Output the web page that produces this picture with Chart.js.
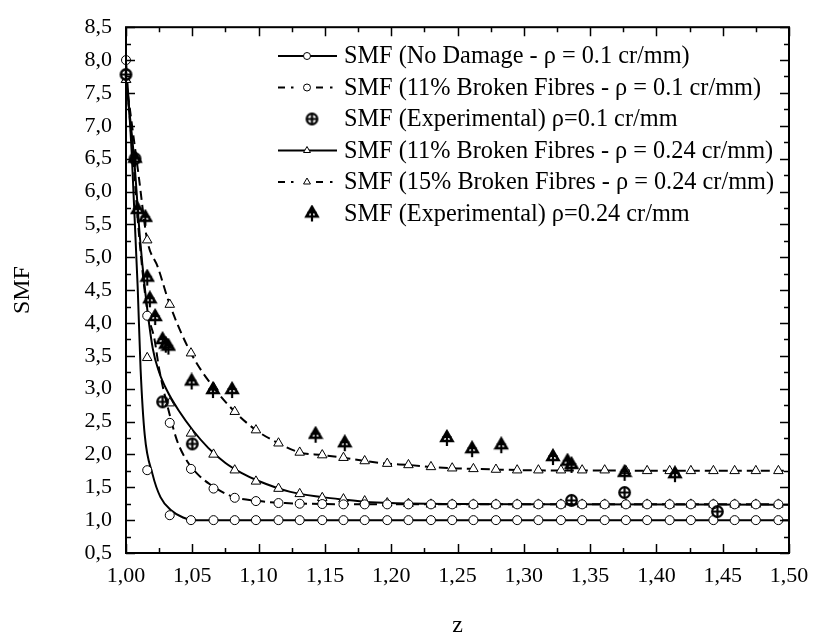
<!DOCTYPE html>
<html>
<head>
<meta charset="utf-8">
<script src="https://cdn.jsdelivr.net/npm/chart.js@4.4.1/dist/chart.umd.min.js"></script>
<style>
  html, body { margin: 0; padding: 0; background: #fff; }
  #wrap { width: 832px; height: 632px; }
</style>
</head>
<body>
<div id="wrap"><canvas id="myChart" width="832" height="632"></canvas></div>
<script>
// marker positions (z) shared by the model series
const markerZ = [1.000, 1.016, 1.033, 1.049, 1.066, 1.082, 1.098, 1.115, 1.131, 1.148, 1.164,
                 1.180, 1.197, 1.213, 1.230, 1.246, 1.262, 1.279, 1.295, 1.311, 1.328, 1.344,
                 1.361, 1.377, 1.393, 1.410, 1.426, 1.443, 1.459, 1.475, 1.492];

// SMF (No Damage - rho = 0.1)
const noDmgMarks = [8.00, 1.76, 1.075, 1.00, 1.00, 1.00, 1.00, 1.00, 1.00, 1.00, 1.00,
                    1.00, 1.00, 1.00, 1.00, 1.00, 1.00, 1.00, 1.00, 1.00, 1.00, 1.00,
                    1.00, 1.00, 1.00, 1.00, 1.00, 1.00, 1.00, 1.00, 1.00];
const noDmgLineZ = [1.000, 1.0044, 1.0088, 1.0110, 1.0141, 1.0200, 1.0260, 1.0340, 1.0430, 1.0510, 1.0700, 1.5000];
const noDmgLine  = [8.00, 6.55, 4.55, 3.30, 2.30, 1.70, 1.35, 1.15, 1.04, 1.00, 1.00, 1.00];

// SMF (11% Broken Fibres - rho = 0.1)
const br11Marks = [7.78, 4.11, 2.48, 1.78, 1.48, 1.34, 1.29, 1.26, 1.25, 1.245, 1.24,
                   1.24, 1.24, 1.24, 1.24, 1.24, 1.24, 1.24, 1.24, 1.24, 1.24, 1.24,
                   1.24, 1.24, 1.24, 1.24, 1.24, 1.24, 1.24, 1.24, 1.24];
const br11LineZ = [1.000, 1.005, 1.010, 1.016, 1.0215, 1.025, 1.033, 1.0385, 1.046, 1.054, 1.063,
                   1.080, 1.100, 1.120, 1.150, 1.200, 1.500];
const br11Line  = [7.78, 6.60, 5.30, 4.20, 3.75, 3.30, 2.60, 2.21, 1.90, 1.70, 1.55,
                   1.36, 1.29, 1.26, 1.245, 1.24, 1.24];

// SMF (11% Broken Fibres - rho = 0.24)
const br11bMarks = [7.70, 3.47, 2.78, 2.32, 2.00, 1.76, 1.59, 1.48, 1.40, 1.34, 1.32,
                    1.29, 1.26, 1.25, 1.24, 1.24, 1.24, 1.24, 1.24, 1.24, 1.24, 1.24,
                    1.24, 1.24, 1.24, 1.24, 1.24, 1.24, 1.24, 1.24, 1.24];
const br11bLineZ = [1.000, 1.0061, 1.0105, 1.0141, 1.0202, 1.025, 1.0312, 1.040, 1.0507, 1.062, 1.075,
                    1.087, 1.0995, 1.124, 1.148, 1.165, 1.180, 1.200, 1.250, 1.300, 1.500];
const br11bLine  = [7.70, 6.50, 5.30, 4.55, 3.61, 3.25, 2.96, 2.66, 2.36, 2.10, 1.87,
                    1.72, 1.60, 1.43, 1.35, 1.31, 1.28, 1.26, 1.245, 1.24, 1.235];

// SMF (15% Broken Fibres - rho = 0.24)
const br15Marks = [7.70, 5.26, 4.28, 3.54, 3.02, 2.65, 2.37, 2.17, 2.03, 1.99, 1.95,
                   1.90, 1.86, 1.84, 1.81, 1.79, 1.78, 1.77, 1.76, 1.76, 1.76, 1.76,
                   1.76, 1.75, 1.75, 1.75, 1.75, 1.75, 1.75, 1.75, 1.75];
const br15LineZ = [1.000, 1.0093, 1.016, 1.024, 1.033, 1.049, 1.066, 1.082, 1.098, 1.115, 1.131,
                   1.148, 1.164, 1.180, 1.197, 1.213, 1.230, 1.246, 1.262, 1.279, 1.300, 1.350, 1.500];
const br15Line  = [7.70, 6.28, 5.26, 4.85, 4.28, 3.54, 3.02, 2.65, 2.37, 2.17, 2.03,
                   1.99, 1.95, 1.90, 1.86, 1.84, 1.81, 1.79, 1.78, 1.77, 1.76, 1.755, 1.75];

// experimental points
const exp01Z   = [1.000, 1.0068, 1.0276, 1.050, 1.336, 1.376, 1.446];
const exp01SMF = [7.78, 6.50, 2.80, 2.16, 1.30, 1.42, 1.13];
const exp024Z   = [1.0068, 1.0088, 1.0146, 1.016, 1.018, 1.022, 1.0276, 1.030, 1.032, 1.0495, 1.0656,
                   1.080, 1.143, 1.165, 1.242, 1.261, 1.283, 1.322, 1.333, 1.336, 1.376, 1.414];
const exp024SMF = [6.50, 5.72, 5.60, 4.69, 4.36, 4.09, 3.74, 3.67, 3.64, 3.11, 2.98,
                   2.98, 2.30, 2.17, 2.25, 2.08, 2.14, 1.96, 1.89, 1.84, 1.72, 1.70];

const legendTexts = [
  'SMF (No Damage - ρ = 0.1 cr/mm)',
  'SMF (11% Broken Fibres - ρ = 0.1 cr/mm)',
  'SMF (Experimental) ρ=0.1 cr/mm',
  'SMF (11% Broken Fibres - ρ = 0.24 cr/mm)',
  'SMF (15% Broken Fibres - ρ = 0.24 cr/mm)',
  'SMF (Experimental) ρ=0.24 cr/mm'
];

const FONT = "'Liberation Serif', 'Times New Roman', serif";
const DASH = [9, 5];

function pts(xs, ys) {
  return xs.map((v, i) => ({ x: v, y: ys[i] }));
}

// symbol images for the experimental points
function makeCirclePlus() {
  const c = document.createElement('canvas');
  c.width = 15; c.height = 15;
  const g = c.getContext('2d');
  g.strokeStyle = '#000';
  g.lineWidth = 2.2;
  g.beginPath(); g.arc(7.5, 7.5, 5.3, 0, Math.PI * 2); g.stroke();
  g.beginPath();
  g.moveTo(7.5, 2); g.lineTo(7.5, 13);
  g.moveTo(2, 7.5); g.lineTo(13, 7.5);
  g.stroke();
  return c;
}
function makeTriPlus() {
  const c = document.createElement('canvas');
  c.width = 16; c.height = 18;
  const g = c.getContext('2d');
  g.strokeStyle = '#000';
  g.lineWidth = 2.6;
  g.beginPath();
  g.moveTo(8, 2.5); g.lineTo(2.5, 12); g.lineTo(13.5, 12); g.closePath();
  g.stroke();
  g.lineWidth = 2.2;
  g.beginPath();
  g.moveTo(8, 2); g.lineTo(8, 17);
  g.moveTo(3.5, 8); g.lineTo(12.5, 8);
  g.stroke();
  return c;
}
const circlePlus = makeCirclePlus();
const triPlus = makeTriPlus();

function lineSet(xs, ys, dash) {
  return {
    data: pts(xs, ys), showLine: true, borderColor: '#000', borderWidth: 2,
    borderDash: dash || [], pointRadius: 0, cubicInterpolationMode: 'monotone', order: 10
  };
}
function markSet(ys, style, r) {
  return {
    data: pts(markerZ, ys), showLine: false, pointStyle: style, pointRadius: r,
    pointBackgroundColor: '#fff', pointBorderColor: '#000', pointBorderWidth: 1,
    order: 5, clip: false
  };
}

// frame with inward ticks on all four sides
const frameTicks = {
  id: 'frameTicks',
  afterDatasetsDraw(chart) {
    const { ctx, chartArea: a, scales: { x, y } } = chart;
    ctx.save();
    ctx.strokeStyle = '#000';
    ctx.lineWidth = 2;
    ctx.strokeRect(a.left, a.top, a.right - a.left, a.bottom - a.top);
    ctx.lineWidth = 1.5;
    const xv = x.ticks.map(t => t.value);
    const yv = y.ticks.map(t => t.value);
    ctx.beginPath();
    xv.forEach((v, i) => {
      const p = Math.round(x.getPixelForValue(v)) + 0.5;
      ctx.moveTo(p, a.bottom); ctx.lineTo(p, a.bottom - 9);
      ctx.moveTo(p, a.top); ctx.lineTo(p, a.top + 9);
      if (i < xv.length - 1) {
        const m = Math.round(x.getPixelForValue((v + xv[i + 1]) / 2)) + 0.5;
        ctx.moveTo(m, a.bottom); ctx.lineTo(m, a.bottom - 5);
        ctx.moveTo(m, a.top); ctx.lineTo(m, a.top + 5);
      }
    });
    yv.forEach((v, i) => {
      const p = Math.round(y.getPixelForValue(v)) + 0.5;
      ctx.moveTo(a.left, p); ctx.lineTo(a.left + 9, p);
      ctx.moveTo(a.right, p); ctx.lineTo(a.right - 9, p);
      if (i < yv.length - 1) {
        const m = Math.round(y.getPixelForValue((v + yv[i + 1]) / 2)) + 0.5;
        ctx.moveTo(a.left, m); ctx.lineTo(a.left + 5, m);
        ctx.moveTo(a.right, m); ctx.lineTo(a.right - 5, m);
      }
    });
    ctx.stroke();
    ctx.restore();
  }
};

// legend drawn inside the plot
const legendBox = {
  id: 'legendBox',
  afterDraw(chart) {
    const ctx = chart.ctx;
    const xm = 307, tx = 344;
    const y0 = 56, dy = 31.5;
    const solid = [[278, 337]];
    const dashDot = [[278, 285], [291, 293.5], [316, 323], [330, 332.5]];
    const kinds = [
      { segs: solid, mark: 'circle' },
      { segs: dashDot, mark: 'circle' },
      { img: circlePlus },
      { segs: solid, mark: 'triangle' },
      { segs: dashDot, mark: 'triangle' },
      { img: triPlus }
    ];
    ctx.save();
    legendTexts.forEach((txt, i) => {
      const yy = y0 + i * dy;
      const k = kinds[i];
      if (k.img) {
        ctx.drawImage(k.img, 312 - k.img.width / 2, yy - k.img.height / 2);
      } else {
        ctx.strokeStyle = '#000';
        ctx.lineWidth = 2;
        ctx.beginPath();
        k.segs.forEach(s => { ctx.moveTo(s[0], yy); ctx.lineTo(s[1], yy); });
        ctx.stroke();
        ctx.fillStyle = '#fff';
        ctx.lineWidth = 1;
        Chart.helpers.drawPoint(ctx, {
          pointStyle: k.mark, radius: k.mark === 'circle' ? 3.5 : 4, borderWidth: 1
        }, xm, yy);
      }
      ctx.fillStyle = '#000';
      ctx.font = '24.3px ' + FONT;
      ctx.textBaseline = 'middle';
      ctx.fillText(txt, tx, yy + 1);
    });
    ctx.restore();
  }
};

Chart.defaults.color = '#000';
Chart.defaults.font.family = FONT;

const ctx = document.getElementById('myChart').getContext('2d');
const chart = new Chart(ctx, {
  type: 'scatter',
  data: {
    datasets: [
      lineSet(noDmgLineZ, noDmgLine),
      lineSet(br11LineZ, br11Line, DASH),
      lineSet(br11bLineZ, br11bLine),
      lineSet(br15LineZ, br15Line, DASH),
      markSet(noDmgMarks, 'circle', 4.5),
      markSet(br11Marks, 'circle', 4.5),
      markSet(br11bMarks, 'triangle', 5.5),
      markSet(br15Marks, 'triangle', 5.5),
      { data: pts(exp01Z, exp01SMF), pointStyle: circlePlus, order: 1, clip: false },
      { data: pts(exp024Z, exp024SMF), pointStyle: triPlus, order: 0, clip: false }
    ]
  },
  options: {
    responsive: false,
    animation: false,
    devicePixelRatio: 1,
    layout: { padding: { top: 23, right: 43, left: 0, bottom: 0 } },
    plugins: { legend: { display: false }, tooltip: { enabled: false } },
    scales: {
      x: {
        type: 'linear', min: 1.0, max: 1.5,
        grid: { display: false, drawTicks: false },
        border: { display: false },
        ticks: {
          stepSize: 0.05, padding: 10, maxRotation: 0, autoSkip: false,
          font: { size: 22 },
          callback: v => v.toFixed(2).replace('.', ',')
        },
        title: { display: true, text: 'z', font: { size: 24 }, padding: { top: 0, bottom: -8 } },
        afterFit: s => { s.height = 79; }
      },
      y: {
        type: 'linear', min: 0.5, max: 8.5,
        grid: { display: false, drawTicks: false },
        border: { display: false },
        ticks: {
          stepSize: 0.5, padding: 14, autoSkip: false,
          font: { size: 22 },
          callback: v => v.toFixed(1).replace('.', ',')
        },
        title: { display: true, text: 'SMF', font: { size: 24 }, padding: { top: 8, bottom: 0 } },
        afterFit: s => { s.width = 126; }
      }
    }
  },
  plugins: [frameTicks, legendBox]
});
</script>
</body>
</html>
